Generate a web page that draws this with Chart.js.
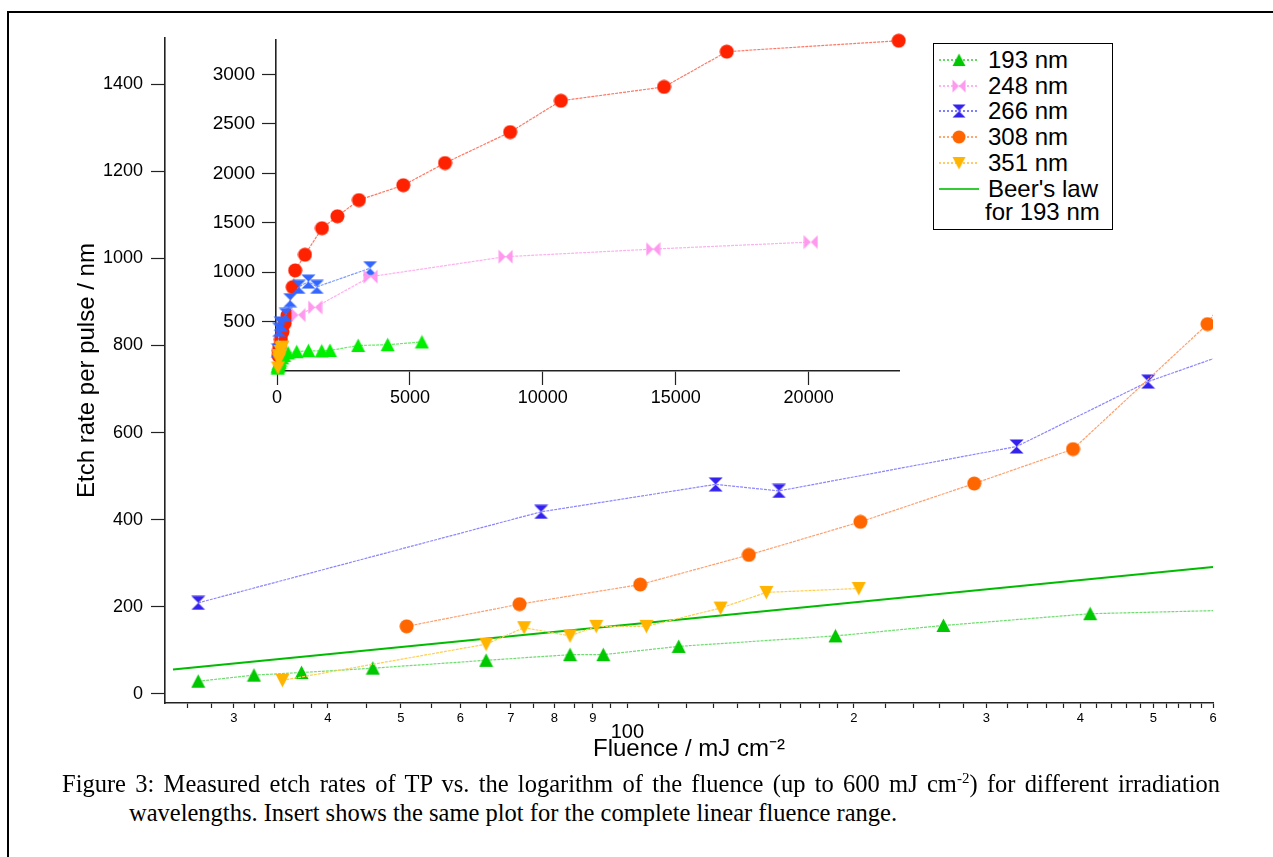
<!DOCTYPE html>
<html>
<head>
<meta charset="utf-8">
<script src="https://cdn.jsdelivr.net/npm/chart.js@4.4.1/dist/chart.umd.min.js"></script>
<style>
  body { margin: 0; background: #fff; }
  #wrap { position: relative; width: 1273px; height: 857px; overflow: hidden; background: #fff; }
  #frame { position: absolute; left: 7px; top: 11px; width: 1400px; height: 1000px;
           border-left: 2px solid #000; border-top: 2px solid #000; }
  #main { position: absolute; left: 0; top: 0; }
  #inset { position: absolute; left: 150px; top: 20px; }
  #legend { position: absolute; left: 933px; top: 43px; width: 178px; height: 185px;
            border: 1.5px solid #000; background: #fff; font-family: 'Liberation Sans', Arial, sans-serif; font-size: 24px; }
  .row { position: absolute; left: 0; height: 24px; line-height: 24px; }
  .row canvas { position: absolute; left: 4px; top: 2px; }
  .row span { position: absolute; left: 54px; white-space: nowrap; }
  .cap { position: absolute; font-family: 'Liberation Serif', 'Times New Roman', serif; font-size: 24.5px;
         line-height: 29px; white-space: nowrap; color: #000; }
  .cap sup { font-size: 15px; line-height: 0; }
  .just { width: 1158px; text-align: justify; text-align-last: justify; white-space: normal; }
</style>
</head>
<body>
<div id="wrap">
  <div id="frame"></div>
  <canvas id="main" width="1273" height="770"></canvas>
  <canvas id="inset" width="760" height="400"></canvas>
  <div id="legend"></div>
  <div class="cap just" style="left:62px; top:769px;">Figure 3: Measured etch rates of TP vs. the logarithm of the fluence (up to 600 mJ cm<sup>-2</sup>) for different irradiation</div>
  <div class="cap" style="left:129px; top:798px;">wavelengths. Insert shows the same plot for the complete linear fluence range.</div>
</div>
<script>
// fluence (mJ cm-2) and etch rate (nm/pulse)
const f193 = [26.9, 31.9, 36.9, 45.9, 64.9, 83.9, 92.9, 117, 189, 263, 412, 740, 1180, 1680, 1990, 3050, 4160, 5450];
const e193 = [29, 43, 49, 59, 77, 90, 90, 109, 133, 157, 184, 195, 205, 203, 208, 258, 266, 294];
const f248 = [800, 1430, 3520, 8600, 14150, 20080];
const e248 = [567, 645, 955, 1157, 1234, 1305];
const f266 = [26.9, 76.8, 131, 159, 329, 492, 820, 1180, 1500, 3500];
const e266 = [209, 418, 481, 466, 568, 717, 852, 905, 852, 1040];
const f308 = [50.9, 71.9, 104, 145, 204, 289, 391, 590, 680, 1050, 1690, 2270, 3080, 4750, 6320, 8770, 10680, 14560, 16920, 23390];
const e308 = [155, 206, 251, 319, 395, 483, 562, 849, 1018, 1177, 1445, 1566, 1730, 1880, 2105, 2418, 2735, 2875, 3232, 3343];
const f351 = [34.8, 64.9, 72.9, 83.9, 90.9, 106, 133, 153, 203];
const e351 = [31, 114, 152, 133, 155, 155, 197, 233, 242];
const fBeer = [24.9, 600];
const eBeer = [55.7, 291.5];

const seriesNames = ['193 nm', '248 nm', '266 nm', '308 nm', '351 nm'];
const beerName = ["Beer's law", 'for 193 nm'];

// axis ticks
const xTickValues = [26, 28, 30, 32, 34, 36, 38, 40, 45, 50, 55, 60, 65, 70, 75, 80, 85, 90, 95,
  100, 110, 120, 130, 140, 150, 160, 170, 180, 190, 200, 220, 240, 260, 280, 300, 320, 340, 360, 380,
  400, 420, 440, 460, 480, 500, 520, 540, 560, 580, 600];
const xLabelValues = [30, 40, 50, 60, 70, 80, 90, 100, 200, 300, 400, 500, 600];
const xLabelTexts = ['3', '4', '5', '6', '7', '8', '9', '100', '2', '3', '4', '5', '6'];
const yTickValues = [0, 200, 400, 600, 800, 1000, 1200, 1400];
const insetXTicks = [0, 5000, 10000, 15000, 20000];
const insetYTicks = [500, 1000, 1500, 2000, 2500, 3000];

Chart.defaults.font.family = "'Liberation Sans', Arial, sans-serif";
Chart.defaults.color = '#000';

function makeMarker(shape, color, size) {
    const c = document.createElement('canvas');
    c.width = size; c.height = size;
    const g = c.getContext('2d');
    const s = size, h = s / 2;
    g.fillStyle = color;
    g.beginPath();
    if (shape === 'circle') {
        g.arc(h, h, h - 0.5, 0, Math.PI * 2);
    } else if (shape === 'up') {
        g.moveTo(h, 0.5); g.lineTo(s - 0.5, s - 1); g.lineTo(0.5, s - 1);
    } else if (shape === 'down') {
        g.moveTo(0.5, 1); g.lineTo(s - 0.5, 1); g.lineTo(h, s - 0.5);
    } else if (shape === 'hourglass') {
        g.moveTo(0.5, 0.5); g.lineTo(s - 0.5, 0.5); g.lineTo(h, h);
        g.lineTo(s - 0.5, s - 0.5); g.lineTo(0.5, s - 0.5); g.lineTo(h, h);
    } else if (shape === 'bowtie') {
        g.moveTo(0.5, 0.5); g.lineTo(h, h); g.lineTo(s - 0.5, 0.5);
        g.lineTo(s - 0.5, s - 0.5); g.lineTo(h, h); g.lineTo(0.5, s - 0.5);
    }
    g.closePath();
    g.fill();
    return c;
}

const pts = (xs, ys) => xs.map((x, i) => ({ x: x, y: ys[i] }));
const plain = (v) => String(v);

// main plot styles
const mk = {
    g193: makeMarker('up', '#00c800', 15),
    p248: makeMarker('bowtie', '#ff99ee', 15),
    b266: makeMarker('hourglass', '#3322ee', 15),
    o308: makeMarker('circle', '#ff6600', 15),
    y351: makeMarker('down', '#ffb400', 15)
};
// insert uses brighter colours
const mkIn = {
    g193: makeMarker('up', '#00ee00', 15),
    p248: makeMarker('bowtie', '#ff99ee', 15),
    b266: makeMarker('hourglass', '#3366ff', 15),
    o308: makeMarker('circle', '#ff2200', 15),
    y351: makeMarker('down', '#ffb400', 15)
};

function series(label, data, marker, lineColor, extra) {
    return Object.assign({
        label: label,
        data: data,
        showLine: true,
        borderColor: lineColor,
        borderWidth: 1.2,
        borderDash: [3, 1],
        pointStyle: marker,
        pointRadius: 6,
        pointHoverRadius: 6,
        tension: 0
    }, extra || {});
}

new Chart(document.getElementById('main'), {
    type: 'scatter',
    data: {
        datasets: [
            series(seriesNames[4], pts(f351, e351), mk.y351, '#ffcf55'),
            series(seriesNames[3], pts(f308, e308), mk.o308, '#ffa070'),
            series(seriesNames[2], pts(f266, e266), mk.b266, '#8c86ff'),
            series(seriesNames[1], pts(f248, e248), mk.p248, '#ffb0ee'),
            series(seriesNames[0], pts(f193, e193), mk.g193, '#70dd70'),
            {
                label: beerName.join(' '),
                data: pts(fBeer, eBeer),
                showLine: true,
                borderColor: '#00bb00',
                borderWidth: 2,
                pointRadius: 0,
                tension: 0
            }
        ]
    },
    options: {
        responsive: false,
        animation: false,
        devicePixelRatio: 1,
        layout: { padding: { left: 71, top: 38, right: 60, bottom: 5 } },
        plugins: { legend: { display: false }, tooltip: { enabled: false } },
        scales: {
            x: {
                type: 'logarithmic',
                min: 24.3,
                max: 600,
                afterFit: (s) => { s.height = 62; },
                afterBuildTicks: (s) => { s.ticks = xTickValues.map(v => ({ value: v })); },
                border: { display: true, color: '#222', width: 1.6 },
                grid: { drawOnChartArea: false, drawTicks: true, tickLength: 5, tickColor: '#222', tickWidth: 1.2 },
                ticks: {
                    autoSkip: false, maxRotation: 0, minRotation: 0, padding: 3, color: '#000',
                    font: (ctx) => (ctx.tick && ctx.tick.value === 100) ? { size: 20, lineHeight: 0.7 } : { size: 13 },
                    callback: (v) => {
                        const i = xLabelValues.indexOf(v);
                        if (i < 0) return '';
                        return v === 100 ? ['', xLabelTexts[i]] : xLabelTexts[i];
                    }
                },
                title: { display: true, text: 'Fluence / mJ cm\u207B\u00B2', font: { size: 24 }, padding: { top: 0, bottom: 1 }, color: '#000' }
            },
            y: {
                min: -21,
                max: 1506,
                afterFit: (s) => { s.width = 94; },
                afterBuildTicks: (s) => { s.ticks = yTickValues.map(v => ({ value: v })); },
                border: { display: true, color: '#222', width: 1.6 },
                grid: { drawOnChartArea: false, drawTicks: true, tickLength: 14, tickColor: '#222', tickWidth: 1.2 },
                ticks: { font: { size: 18 }, padding: 8, color: '#000', callback: plain },
                title: { display: true, text: 'Etch rate per pulse / nm', font: { size: 24 }, padding: { top: 2, bottom: 0 }, color: '#000' }
            }
        }
    }
});

new Chart(document.getElementById('inset'), {
    type: 'scatter',
    data: {
        datasets: [
            series(seriesNames[4], pts(f351, e351), mkIn.y351, '#ffcf55', { clip: false }),
            series(seriesNames[0], pts(f193, e193), mkIn.g193, '#66ee66', { clip: false }),
            series(seriesNames[1], pts(f248, e248), mkIn.p248, '#ffb0ee', { clip: false }),
            series(seriesNames[2], pts(f266, e266), mkIn.b266, '#7f9cff', { clip: false }),
            series(seriesNames[3], pts(f308, e308), mkIn.o308, '#ff7a66', { clip: false })
        ]
    },
    options: {
        responsive: false,
        animation: false,
        devicePixelRatio: 1,
        layout: { padding: { left: 0, top: 20, right: 11, bottom: 0 } },
        plugins: { legend: { display: false }, tooltip: { enabled: false } },
        scales: {
            x: {
                type: 'linear',
                min: -40,
                max: 23400,
                afterFit: (s) => { s.height = 49; },
                afterBuildTicks: (s) => { s.ticks = insetXTicks.map(v => ({ value: v })); },
                border: { display: true, color: '#222', width: 1.6 },
                grid: { drawOnChartArea: false, drawTicks: true, tickLength: 14, tickColor: '#222', tickWidth: 1.2 },
                ticks: { font: { size: 18 }, padding: 2, color: '#000', maxRotation: 0, callback: plain }
            },
            y: {
                min: 0,
                max: 3350,
                afterFit: (s) => { s.width = 126; },
                afterBuildTicks: (s) => { s.ticks = insetYTicks.map(v => ({ value: v })); },
                border: { display: true, color: '#222', width: 1.6 },
                grid: { drawOnChartArea: false, drawTicks: true, tickLength: 14, tickColor: '#222', tickWidth: 1.2 },
                ticks: { font: { size: 19 }, padding: 7, color: '#000', callback: plain }
            }
        }
    }
});

// legend box
const legend = document.getElementById('legend');
const legendRows = [
    { text: seriesNames[0], marker: mk.g193, line: '#33cc33' },
    { text: seriesNames[1], marker: mk.p248, line: '#ff99ee' },
    { text: seriesNames[2], marker: mk.b266, line: '#5555ff' },
    { text: seriesNames[3], marker: mk.o308, line: '#ff8844' },
    { text: seriesNames[4], marker: mk.y351, line: '#ffbb33' },
    { text: beerName[0], marker: null, line: '#33cc33' }
];
legendRows.forEach((r, i) => {
    const row = document.createElement('div');
    row.className = 'row';
    row.style.top = (4 + i * 25.7) + 'px';
    const c = document.createElement('canvas');
    c.width = 42; c.height = 20;
    const g = c.getContext('2d');
    g.strokeStyle = r.line;
    if (r.marker) {
        g.lineWidth = 1.5;
        g.setLineDash([2, 2]);
    } else {
        g.lineWidth = 2;
    }
    g.beginPath(); g.moveTo(1, 10); g.lineTo(41, 10); g.stroke();
    if (r.marker) g.drawImage(r.marker, 21 - 7, 10 - 7, 14, 14);
    row.appendChild(c);
    const t = document.createElement('span');
    t.textContent = r.text;
    row.appendChild(t);
    legend.appendChild(row);
});
const last = document.createElement('div');
last.className = 'row';
last.style.top = (4 + 6 * 25.7 - 2) + 'px';
last.innerHTML = '<span style="left:51px">' + beerName[1] + '</span>';
legend.appendChild(last);
</script>
</body>
</html>
